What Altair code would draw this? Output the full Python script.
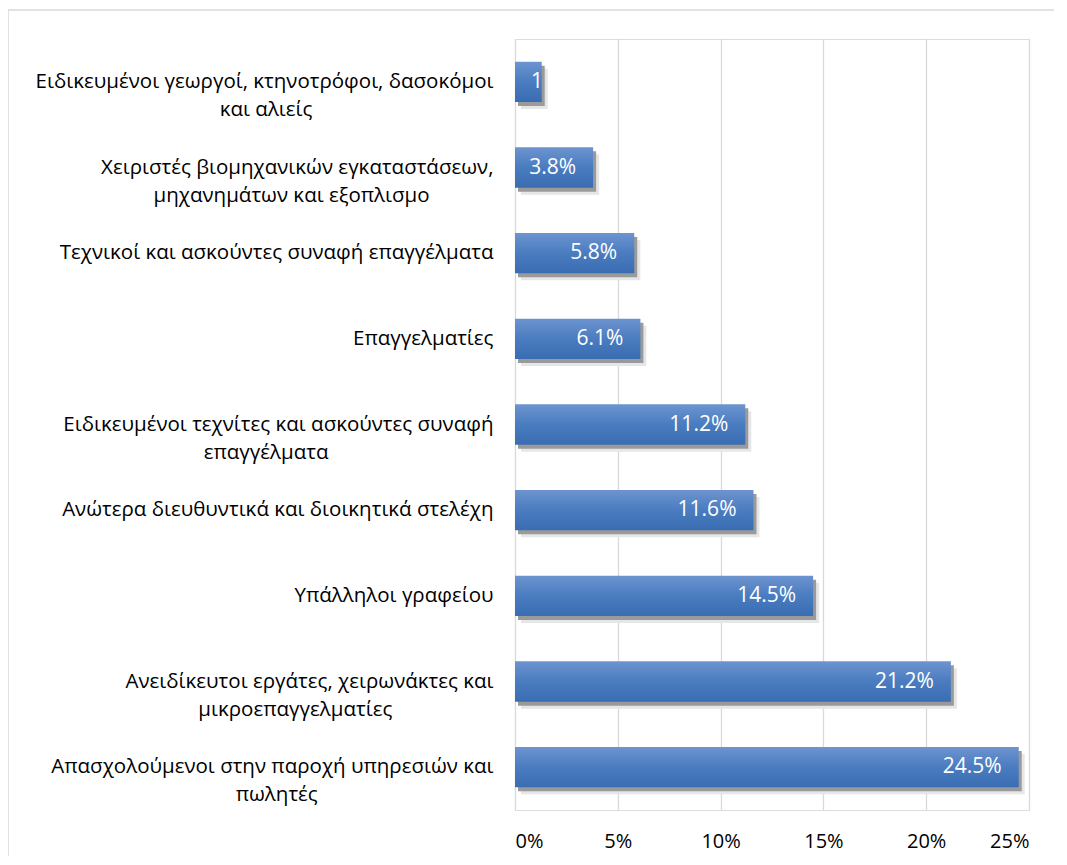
import altair as alt
import pandas as pd

categories = [
    "Ειδικευμένοι γεωργοί, κτηνοτρόφοι, δασοκόμοι\nκαι αλιείς",
    "Χειριστές βιομηχανικών εγκαταστάσεων,\nμηχανημάτων και εξοπλισμο",
    "Τεχνικοί και ασκούντες συναφή επαγγέλματα",
    "Επαγγελματίες",
    "Ειδικευμένοι τεχνίτες και ασκούντες συναφή\nεπαγγέλματα",
    "Ανώτερα διευθυντικά και διοικητικά στελέχη",
    "Υπάλληλοι γραφείου",
    "Ανειδίκευτοι εργάτες, χειρωνάκτες και\nμικροεπαγγελματίες",
    "Απασχολούμενοι στην παροχή υπηρεσιών και\nπωλητές",
]
values = [1.3, 3.8, 5.8, 6.1, 11.2, 11.6, 14.5, 21.2, 24.5]
x_ticks = [0, 5, 10, 15, 20, 25]

df = pd.DataFrame({"category": categories, "value": values})
df["label"] = [f"{v:.1f}%" for v in values]

FONT = "Open Sans"
W, H = 514, 771

# second line of a wrapped label is centred under the first one:
# pad it at the end with no-break spaces (kept from trimming by a zero-width space)
label_expr = (
    "length(split(datum.label, '\\n')) > 1 ? "
    "[split(datum.label, '\\n')[0], "
    "pad(split(datum.label, '\\n')[1], length(split(datum.label, '\\n')[0]), '\u00a0') + '\u200b'] "
    ": datum.label"
)

y_enc = alt.Y(
    "category:N",
    sort=categories,
    title=None,
    scale=alt.Scale(paddingInner=0.53, paddingOuter=0.265),
    axis=alt.Axis(
        domain=False,
        ticks=False,
        grid=False,
        labelPadding=22,
        labelFont=FONT,
        labelFontSize=20.5,
        labelColor="#000000",
        labelLimit=700,
        labelLineHeight=28,
        labelExpr=label_expr,
    ),
)

x_enc = alt.X(
    "value:Q",
    title=None,
    scale=alt.Scale(domain=[0, 25], nice=False),
    axis=alt.Axis(
        values=x_ticks,
        domain=False,
        ticks=False,
        grid=True,
        gridColor="#d9d9d9",
        gridWidth=1.3,
        labelPadding=21,
        labelFont=FONT,
        labelFontSize=20,
        labelColor="#000000",
        labelExpr="datum.value + '%'",
    ),
)

halo = alt.Chart(df).mark_bar(
    color="#e6e6e6", xOffset=6, yOffset=7, x2Offset=2
).encode(x=x_enc, y=y_enc)

shadow = alt.Chart(df).mark_bar(
    color="#9a9a9a", xOffset=3, yOffset=4, x2Offset=1
).encode(x=x_enc, y=y_enc)

bars = alt.Chart(df).mark_bar(
    color=alt.Gradient(
        gradient="linear",
        stops=[
            alt.GradientStop(color="#6d94cf", offset=0),
            alt.GradientStop(color="#4a7cc0", offset=0.5),
            alt.GradientStop(color="#3a6cb2", offset=1),
        ],
        x1=0, x2=0, y1=0, y2=1,
    )
).encode(x=x_enc, y=y_enc)

text_big = alt.Chart(df).transform_filter("datum.value >= 2").mark_text(
    align="right", baseline="middle", dx=-17, color="white", font=FONT, fontSize=21
).encode(x=x_enc, y=y_enc, text="label:N")

# a label too long for its bar starts at the bar's base and is cut at the bar's end
text_small = alt.Chart(df).transform_filter("datum.value < 2").transform_calculate(
    zero="0"
).mark_text(
    align="left", baseline="middle", dx=16, color="white", font=FONT, fontSize=21,
    limit=14, ellipsis="\u200b"
).encode(
    x=alt.X("zero:Q", scale=alt.Scale(domain=[0, 25], nice=False)),
    y=y_enc,
    text="label:N",
)

frame_data = pd.DataFrame({"k": [0]})
frame_left = alt.Chart(frame_data).mark_rule(color="#d9d9d9", strokeWidth=1.5).encode(
    x=alt.value(-507), y=alt.value(-29), y2=alt.value(900)
)
frame_top = alt.Chart(frame_data).mark_rule(color="#d9d9d9", strokeWidth=1.5).encode(
    x=alt.value(-507), x2=alt.value(1000), y=alt.value(-29)
)

chart = alt.layer(
    frame_left, frame_top, halo, shadow, bars, text_big, text_small
).properties(
    width=W, height=H,
    autosize=alt.AutoSizeParams(type="none"),
    padding={"left": 507, "top": 31, "right": 25, "bottom": 46},
).configure_view(stroke=None).configure(background="white")

chart.save("out.html", embed_options={"renderer": "svg", "actions": False})
